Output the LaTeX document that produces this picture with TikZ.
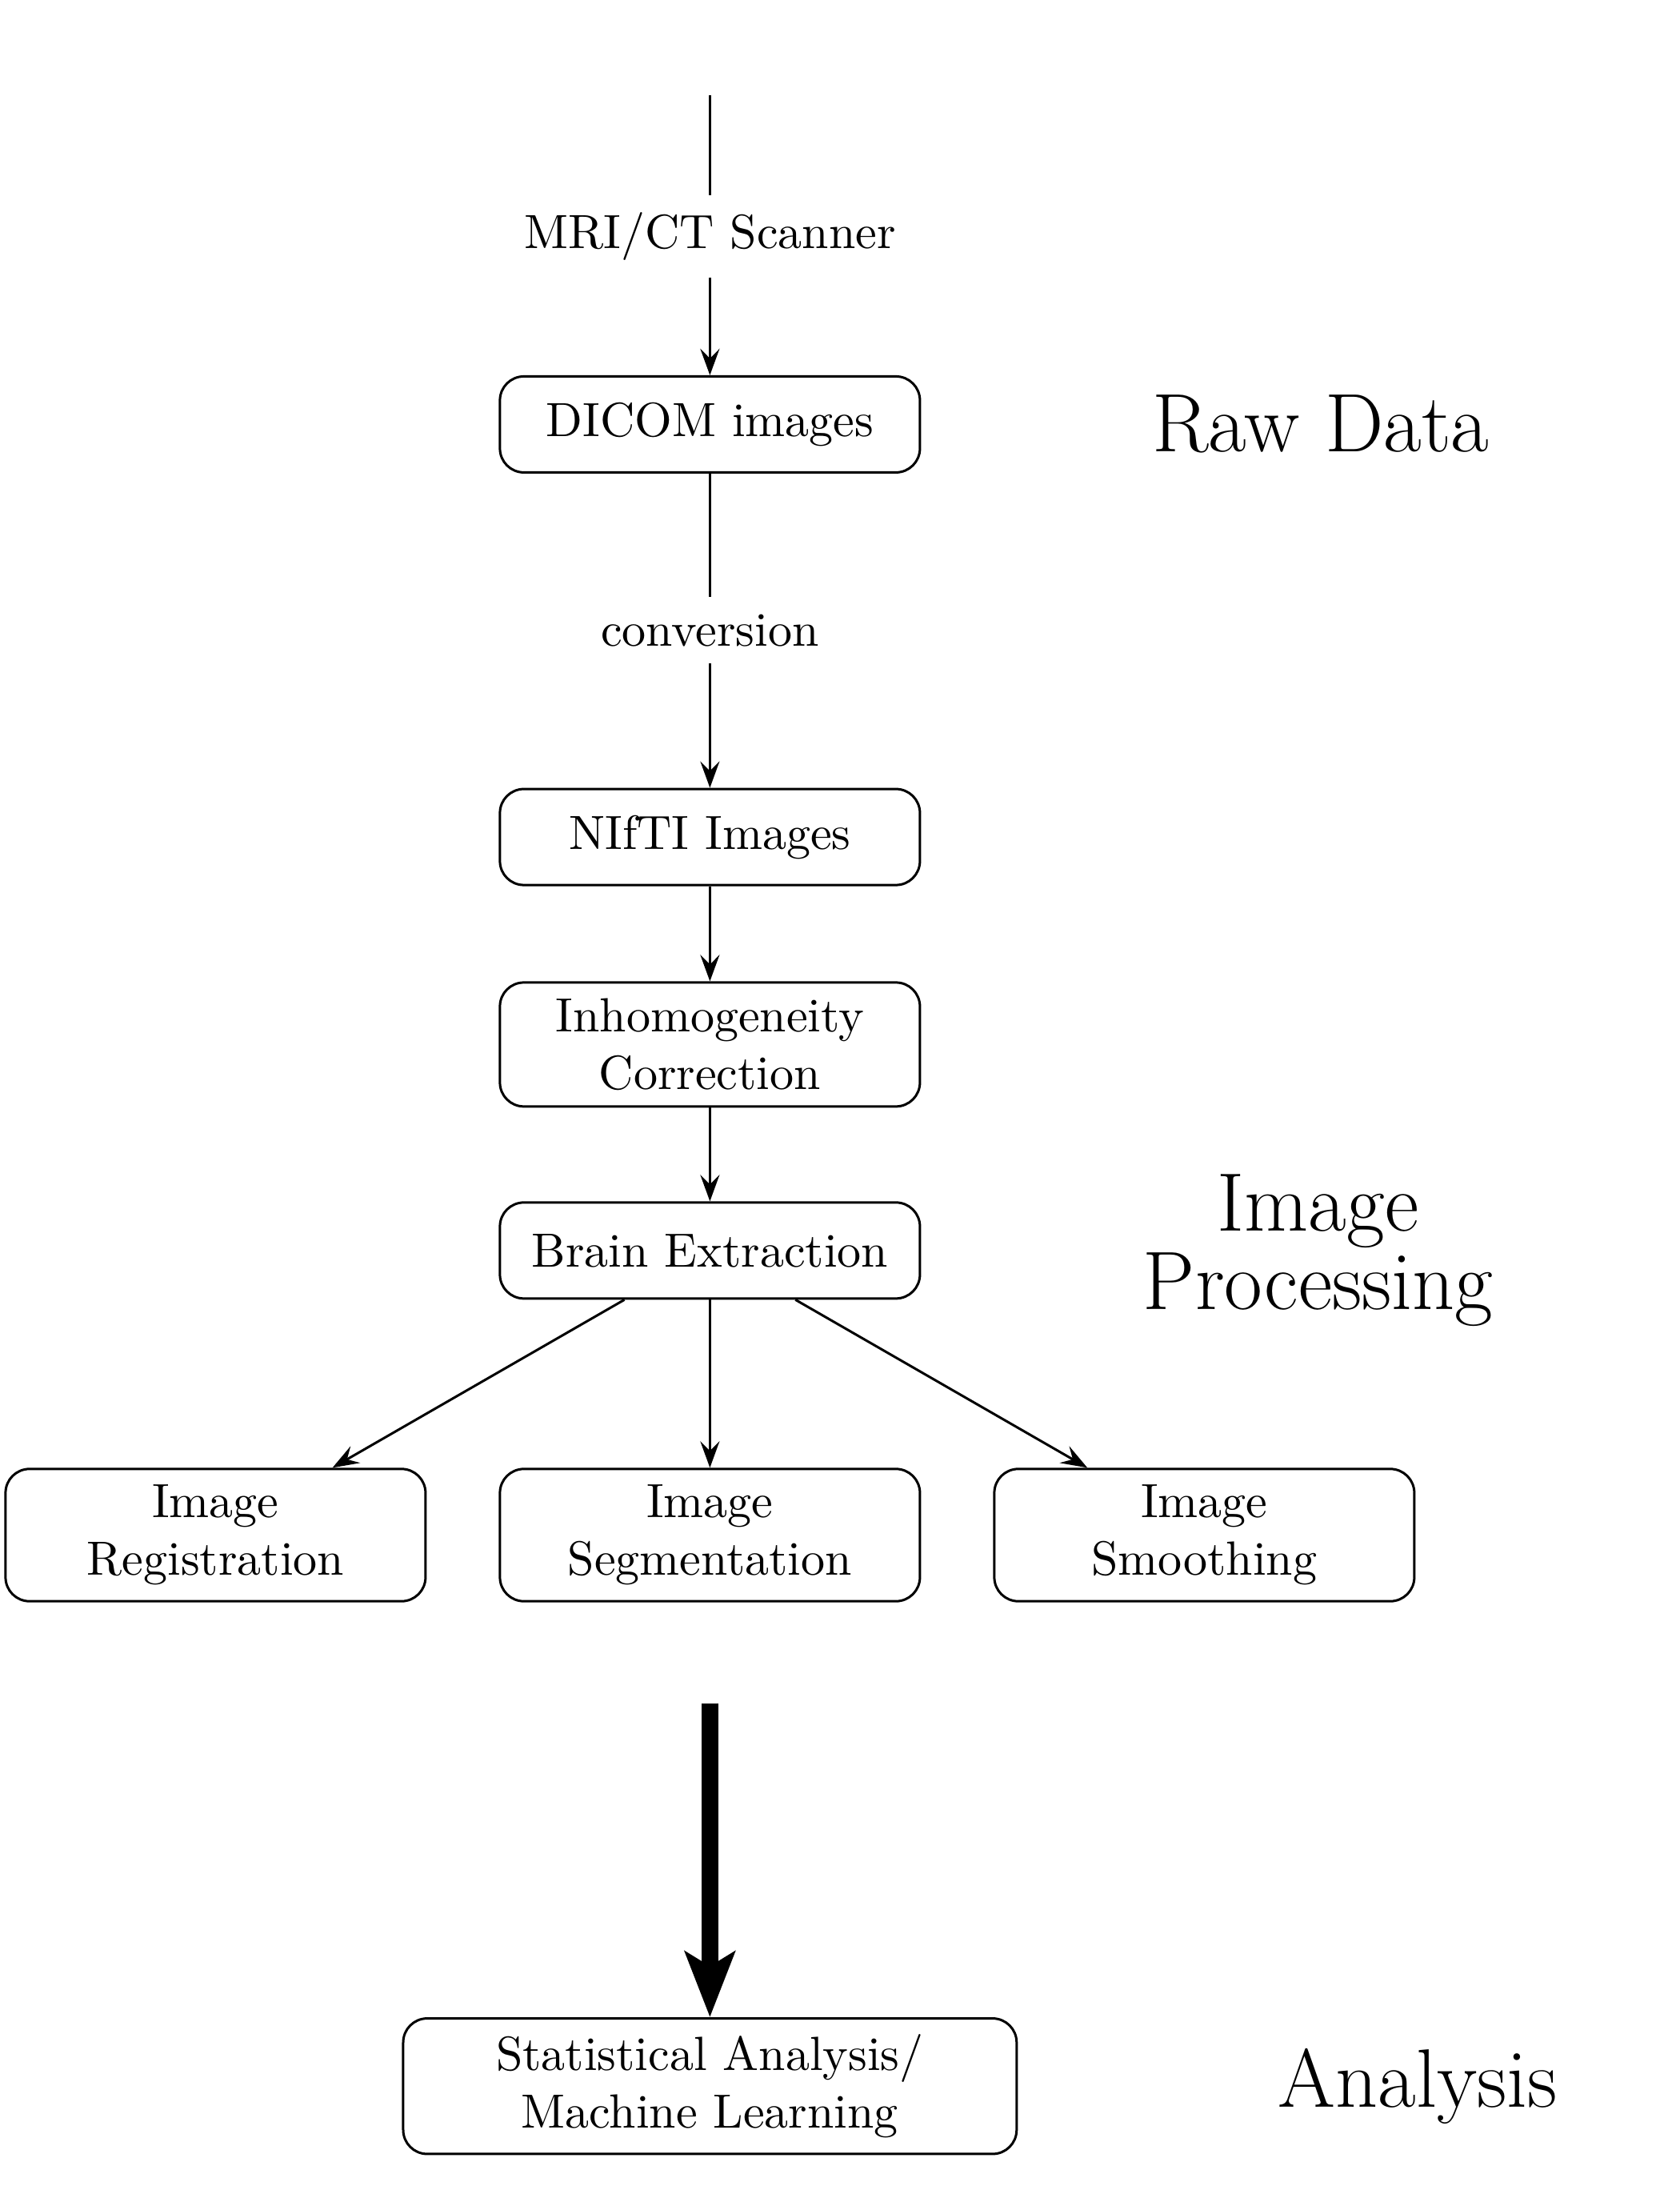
\documentclass[tikz,border=0pt]{standalone}
\usepackage{amsmath}
\usetikzlibrary{positioning,arrows.meta}

\begin{document}
\begin{tikzpicture}[line width=0.5pt,
  >={Stealth[length=5.5pt,width=4pt,inset=2pt]},
  box/.style={draw, rounded corners=5pt, align=center, minimum width=87.5pt, minimum height=20pt},
  stage/.style={font=\fontsize{17.28}{16.3}\selectfont, inner sep=0pt, align=center}]
 \useasboundingbox (0,0) rectangle (350pt,-458.67pt);
 \node[box] at (147.9pt,-88.4pt) (dicom) {DICOM images};
 \node[above=20.4pt of dicom] (scanner) {MRI/CT Scanner};
 \coordinate[above=20.7pt of scanner] (src);
 \node[below=25.7pt of dicom] (conv) {conversion};
 \node[box, below=25.9pt of conv] (nifti) {NIfTI Images};
 \node[box, below=19.8pt of nifti] (inh) {Inhomogeneity\\Correction};
 \node[box, below=19.5pt of inh] (brain) {Brain Extraction};
 \node[box, below=35pt of brain] (seg) {Image\\Segmentation};
 \node[box, left=15pt of seg] (reg) {Image\\Registration};
 \node[box, right=15pt of seg] (smooth) {Image\\Smoothing};
 \coordinate[below=21pt of seg] (thk);
 \node[box, minimum width=127.8pt, below=86.4pt of seg] (stat) {Statistical Analysis/\\Machine Learning};
 %
 \node[stage, right=47.9pt of dicom] (raw) {Raw Data};
 \node[stage, right=46pt of brain] (proc) {Image\\Processing};
 \node[stage, right=54pt of stat] (ana) {Analysis};
 %
 \draw (src) -- (scanner);
 \draw[->] (scanner) -- (dicom);
 \draw (dicom) -- (conv);
 \draw[->] (conv) -- (nifti);
 \draw[->] (nifti) -- (inh);
 \draw[->] (inh) -- (brain);
 \foreach \n in {reg,seg,smooth}
   \draw[->] (brain) -- (\n);
 \draw[line width=3.4pt, -{Stealth[length=13.6pt,width=10.3pt,inset=3pt]}] (thk) -- (stat);
\end{tikzpicture}
\end{document}
